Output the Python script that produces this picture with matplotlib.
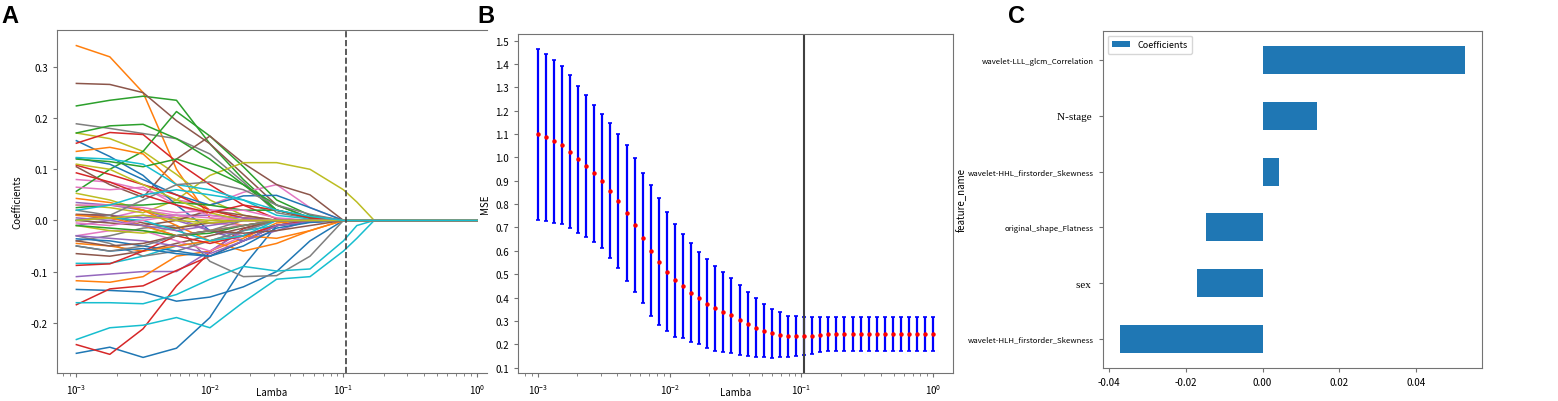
import numpy as np
import matplotlib
matplotlib.use("Agg")
import matplotlib.pyplot as plt

plt.rcParams['font.family'] = ['Noto Sans CJK KR', 'DejaVu Sans']
plt.rcParams['axes.unicode_minus'] = False

# ---- A: LASSO coefficient paths ----
path_lambdas = [0.001, 0.00178, 0.00316, 0.00562, 0.01, 0.0178, 0.0316,
                0.0562, 0.1, 0.126, 0.17, 1.0]
# 60 features, listed in colour-cycle order (C0..C9 per block)
path_coefs = [
    [-0.260, -0.248, -0.268, -0.250, -0.190, -0.090, -0.010, 0, 0, 0, 0, 0],
    [0.342, 0.320, 0.250, 0.100, 0.005, -0.010, 0, 0, 0, 0, 0, 0],
    [0.224, 0.235, 0.243, 0.235, 0.150, 0.080, 0.020, 0.005, 0, 0, 0, 0],
    [-0.243, -0.262, -0.212, -0.128, -0.062, -0.016, 0, 0, 0, 0, 0, 0],
    [-0.110, -0.105, -0.100, -0.100, -0.060, -0.020, 0, 0, 0, 0, 0, 0],
    [0.268, 0.266, 0.250, 0.195, 0.150, 0.090, 0.030, 0.005, 0, 0, 0, 0],
    [0.080, 0.075, 0.060, 0.040, 0.030, 0.055, 0.070, 0.025, 0, 0, 0, 0],
    [0.189, 0.180, 0.170, 0.160, 0.130, 0.075, 0.015, 0.004, 0, 0, 0, 0],
    [0.171, 0.160, 0.135, 0.090, 0.040, 0.010, 0, 0, 0, 0, 0, 0],
    [-0.233, -0.210, -0.205, -0.190, -0.210, -0.160, -0.115, -0.110, -0.060, -0.035, 0, 0],

    [-0.135, -0.137, -0.140, -0.158, -0.150, -0.130, -0.100, -0.040, 0, 0, 0, 0],
    [-0.118, -0.121, -0.110, -0.070, -0.060, -0.035, -0.005, 0, 0, 0, 0, 0],
    [0.057, 0.100, 0.135, 0.213, 0.165, 0.105, 0.040, 0.010, 0, 0, 0, 0],
    [-0.165, -0.134, -0.128, -0.098, -0.070, -0.040, -0.010, -0.003, 0, 0, 0, 0],
    [0.035, 0.030, 0.020, 0.000, -0.020, -0.030, -0.010, 0, 0, 0, 0, 0],
    [0.105, 0.070, 0.045, 0.120, 0.165, 0.112, 0.070, 0.050, 0, 0, 0, 0],
    [0.000, 0.005, 0.020, 0.010, -0.005, -0.010, 0, 0, 0, 0, 0, 0],
    [-0.040, -0.030, -0.015, -0.010, -0.080, -0.110, -0.108, -0.070, 0, 0, 0, 0],
    [0.030, 0.025, 0.015, 0.040, 0.088, 0.113, 0.113, 0.100, 0.060, 0.036, 0, 0],
    [-0.161, -0.161, -0.163, -0.145, -0.115, -0.090, -0.099, -0.095, -0.040, -0.010, 0, 0],

    [0.156, 0.125, 0.088, 0.030, -0.020, -0.040, -0.010, 0, 0, 0, 0, 0],
    [0.135, 0.143, 0.130, 0.070, 0.020, 0.005, 0, 0, 0, 0, 0, 0],
    [0.171, 0.185, 0.188, 0.160, 0.120, 0.070, 0.020, 0.006, 0, 0, 0, 0],
    [0.151, 0.172, 0.168, 0.115, 0.070, 0.030, 0.003, 0, 0, 0, 0, 0],
    [-0.010, 0.000, 0.010, 0.005, -0.020, -0.040, -0.020, 0, 0, 0, 0, 0],
    [-0.065, -0.070, -0.060, -0.045, -0.030, -0.015, 0, 0, 0, 0, 0, 0],
    [-0.030, -0.020, -0.020, -0.040, -0.060, -0.030, -0.010, 0, 0, 0, 0, 0],
    [0.020, 0.010, -0.010, -0.030, -0.020, 0.000, 0, 0, 0, 0, 0, 0],
    [0.053, 0.040, 0.020, 0.005, 0, 0, 0, 0, 0, 0, 0, 0],
    [-0.084, -0.084, -0.070, -0.050, -0.040, -0.020, -0.010, 0, 0, 0, 0, 0],

    [0.122, 0.110, 0.080, 0.050, 0.030, 0.048, 0.049, 0.025, 0, 0, 0, 0],
    [0.043, 0.035, 0.020, -0.010, -0.040, -0.060, -0.045, -0.020, 0, 0, 0, 0],
    [0.120, 0.115, 0.105, 0.120, 0.100, 0.070, 0.030, 0.005, 0, 0, 0, 0],
    [0.108, 0.090, 0.070, 0.050, 0.020, 0.005, 0, 0, 0, 0, 0, 0],
    [0.010, 0.010, 0.005, 0.010, 0.010, 0.005, 0, 0, 0, 0, 0, 0],
    [0.000, -0.005, -0.010, 0.000, 0.020, 0.010, 0, 0, 0, 0, 0, 0],
    [0.065, 0.060, 0.065, 0.030, 0.010, 0.000, 0, 0, 0, 0, 0, 0],
    [-0.030, -0.045, -0.070, -0.060, -0.040, -0.020, 0, 0, 0, 0, 0, 0],
    [-0.010, -0.020, -0.025, -0.015, 0.000, 0, 0, 0, 0, 0, 0, 0],
    [0.123, 0.120, 0.110, 0.070, 0.060, 0.040, 0.010, 0.003, 0, 0, 0, 0],

    [-0.036, -0.040, -0.050, -0.060, -0.070, -0.040, -0.010, -0.003, 0, 0, 0, 0],
    [-0.045, -0.050, -0.060, -0.050, -0.040, -0.030, -0.035, -0.020, 0, 0, 0, 0],
    [0.025, 0.030, 0.030, 0.035, 0.030, 0.020, 0.020, 0.005, 0, 0, 0, 0],
    [-0.088, -0.085, -0.060, -0.030, -0.045, -0.030, -0.010, 0, 0, 0, 0, 0],
    [-0.030, -0.035, -0.040, -0.050, -0.065, -0.040, -0.010, -0.003, 0, 0, 0, 0],
    [0.012, 0.010, -0.005, -0.015, -0.005, 0.000, 0, 0, 0, 0, 0, 0],
    [0.030, 0.030, 0.025, 0.015, 0.020, 0.020, 0.005, 0, 0, 0, 0, 0],
    [0.000, 0.010, 0.040, 0.070, 0.075, 0.060, 0.030, 0.012, 0, 0, 0, 0],
    [0.110, 0.100, 0.070, 0.040, 0.015, 0, 0, 0, 0, 0, 0, 0],
    [0.000, 0.005, 0.000, -0.020, -0.040, -0.030, 0, 0, 0, 0, 0, 0],

    [-0.050, -0.060, -0.055, -0.065, -0.070, -0.050, -0.015, -0.004, 0, 0, 0, 0],
    [0.010, 0.005, -0.010, -0.030, -0.020, -0.010, 0, 0, 0, 0, 0, 0],
    [-0.010, -0.015, -0.020, -0.030, -0.025, -0.010, 0, 0, 0, 0, 0, 0],
    [0.093, 0.075, 0.050, 0.030, 0.015, 0.030, 0.020, 0.005, 0, 0, 0, 0],
    [0.005, 0.000, -0.010, -0.020, -0.010, 0.000, 0, 0, 0, 0, 0, 0],
    [-0.040, -0.050, -0.045, -0.030, -0.020, -0.025, -0.020, -0.010, 0, 0, 0, 0],
    [-0.005, -0.010, 0.000, 0.010, 0.005, 0, 0, 0, 0, 0, 0, 0],
    [-0.050, -0.060, -0.050, -0.030, -0.020, -0.010, 0, 0, 0, 0, 0, 0],
    [0.000, 0.005, 0.010, 0.000, -0.005, 0, 0, 0, 0, 0, 0, 0],
    [0.020, 0.030, 0.050, 0.060, 0.050, 0.040, 0.020, 0.008, 0, 0, 0, 0],
]
best_lambda = 0.1048

# ---- B: cross-validated MSE ----
cv_lambdas = np.logspace(-3, 0, 50)  # CV grid
mse_mean = [1.098, 1.085, 1.069, 1.052, 1.025, 0.991, 0.961, 0.931, 0.898, 0.858,
            0.815, 0.761, 0.711, 0.655, 0.601, 0.554, 0.511, 0.474, 0.448, 0.421,
            0.398, 0.374, 0.354, 0.337, 0.324, 0.304, 0.288, 0.271, 0.258, 0.248,
            0.241, 0.234, 0.234, 0.234, 0.237, 0.241, 0.244, 0.245, 0.245, 0.245,
            0.245, 0.245, 0.245, 0.245, 0.245, 0.245, 0.245, 0.245, 0.245, 0.245]
mse_std = [0.364, 0.357, 0.349, 0.339, 0.328, 0.314, 0.304, 0.294, 0.287, 0.287,
           0.287, 0.291, 0.287, 0.280, 0.281, 0.270, 0.255, 0.242, 0.223, 0.212,
           0.196, 0.190, 0.182, 0.171, 0.161, 0.149, 0.137, 0.125, 0.114, 0.105,
           0.096, 0.088, 0.085, 0.082, 0.079, 0.076, 0.074, 0.073, 0.073, 0.073,
           0.073, 0.073, 0.073, 0.073, 0.073, 0.073, 0.073, 0.073, 0.073, 0.073]

# ---- C: selected features ----
feature_names = ['wavelet-HLH_firstorder_Skewness', 'sex ', 'original_shape_Flatness',
                 'wavelet-HHL_firstorder_Skewness', 'N-stage ', 'wavelet-LLL_glcm_Correlation']
feature_coefs = [-0.0371, -0.0170, -0.0148, 0.0044, 0.0143, 0.0526]

W, H = 1558, 402
fig = plt.figure(figsize=(W / 100, H / 100), dpi=100)

def box(l, t, r, b):
    return [l / W, 1 - b / H, (r - l) / W, (b - t) / H]

spine_col = '0.45'
tick_fs = 7

# A
ax1 = fig.add_axes(box(57, 31, 487, 374))
for i, c in enumerate(path_coefs):
    ax1.plot(path_lambdas, c, lw=1.1, color=f'C{i % 10}')
ax1.axvline(best_lambda, color='0.25', ls='--', lw=1.2)
ax1.set_xscale('log')
ax1.set_xlim(10 ** -3.145, 10 ** 0.075)
ax1.set_ylim(-0.2985, 0.3725)
ax1.set_yticks([-0.2, -0.1, 0.0, 0.1, 0.2, 0.3])
ax1.set_xlabel('Lamba', fontsize=7)
ax1.xaxis.set_label_coords(0.5, -0.042)
ax1.set_ylabel('Coefficients', fontsize=7, labelpad=6)
ax1.spines['right'].set_visible(False)

# B
ax2 = fig.add_axes(box(518, 35, 953, 374))
ax2.errorbar(cv_lambdas, mse_mean, yerr=mse_std, fmt='o', color='red', ms=2.2,
             ecolor='blue', elinewidth=1.6, capsize=1.5, capthick=1.2)
ax2.axvline(best_lambda, color='0.25', lw=1.5)
ax2.set_xscale('log')
ax2.set_yticks(np.arange(0.1, 1.51, 0.1))
ax2.set_xlabel('Lamba', fontsize=7)
ax2.xaxis.set_label_coords(0.5, -0.042)
ax2.set_ylabel('MSE', fontsize=7, labelpad=4)

# C
ax3 = fig.add_axes(box(1103, 32, 1482, 369))
ypos = np.arange(len(feature_names))
ax3.barh(ypos, feature_coefs, height=0.5, color='#1f77b4', label='Coefficients')
ax3.set_yticks(ypos)
ax3.set_yticklabels(feature_names)
ax3.set_xticks([-0.04, -0.02, 0.0, 0.02, 0.04])
ax3.set_xticklabels(['-0.04', '-0.02', '0.00', '0.02', '0.04'])
ax3.set_xlim(-0.0415, 0.0571)
ax3.set_ylabel('feature_name', fontsize=7)
ax3.yaxis.set_label_coords(-0.36, 0.5)
ax3.legend(loc='upper left', fontsize=6.5, handlelength=2, borderpad=0.5)

for ax in (ax1, ax2, ax3):
    for s in ax.spines.values():
        s.set_color(spine_col)
    ax.tick_params(labelsize=tick_fs, color=spine_col, length=3, width=0.8)
    ax.tick_params(which='minor', color=spine_col, length=2, width=0.6)

for lab in ax3.get_yticklabels():
    if lab.get_text().strip() in ('sex', 'N-stage'):
        lab.set_family(['Liberation Serif'])
        lab.set_fontsize(8)
    else:
        lab.set_fontsize(5.6)

for letter, x in (('A', 1), ('B', 477), ('C', 1008)):
    fig.text(x / W, 1 - 5 / H, letter, fontsize=17, fontweight='bold',
             family=['Liberation Sans', 'DejaVu Sans'], va='top', ha='left')

fig.savefig('out.png', dpi=100)
